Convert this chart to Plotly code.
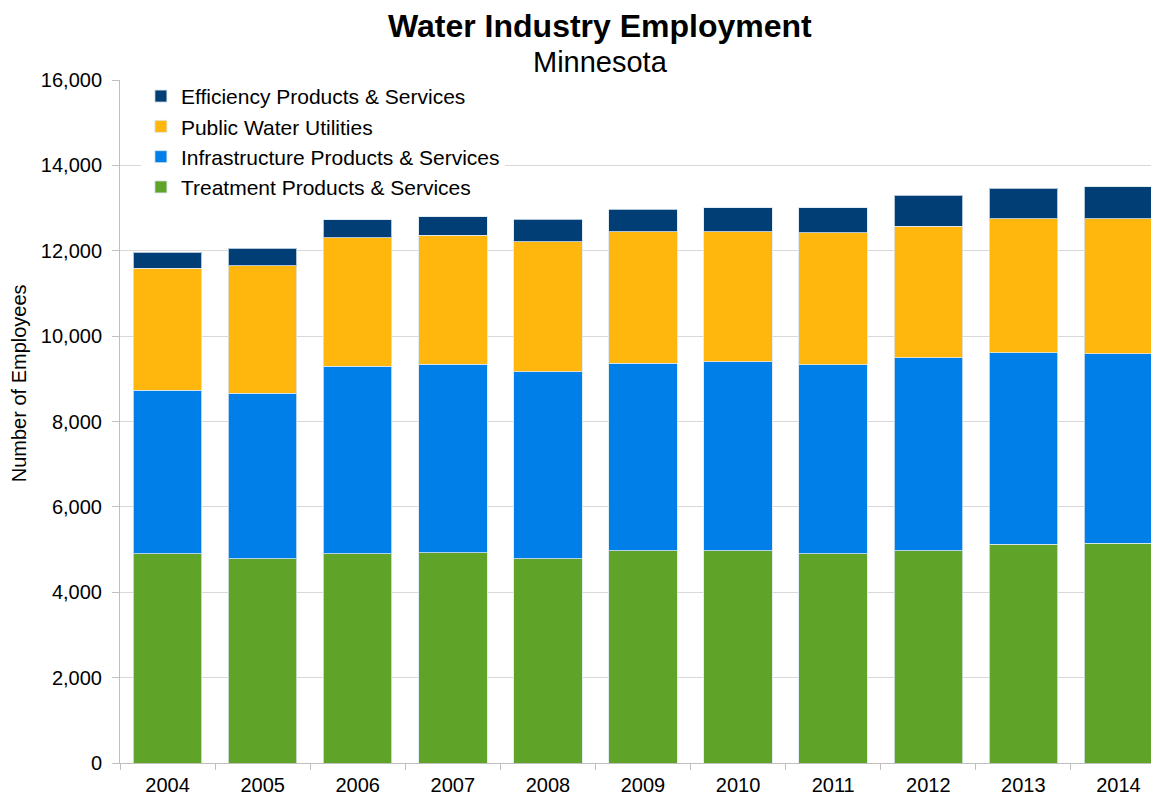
import plotly.graph_objects as go

years = ["2004", "2005", "2006", "2007", "2008", "2009", "2010", "2011", "2012", "2013", "2014"]
treatment = [4900, 4780, 4900, 4930, 4780, 4970, 4970, 4900, 4970, 5120, 5150]
infrastructure = [3830, 3880, 4400, 4410, 4380, 4395, 4435, 4435, 4525, 4490, 4435]
public_utilities = [2855, 2990, 3000, 3020, 3050, 3085, 3045, 3085, 3080, 3140, 3165]
efficiency = [380, 405, 430, 440, 525, 520, 560, 590, 720, 720, 755]
y_ticks = [0, 2000, 4000, 6000, 8000, 10000, 12000, 14000, 16000]

FONT = "Liberation Sans, Arial, sans-serif"

series = [
    ("Treatment Products & Services", treatment, "#5FA328"),
    ("Infrastructure Products & Services", infrastructure, "#007FE8"),
    ("Public Water Utilities", public_utilities, "#FFB70D"),
    ("Efficiency Products & Services", efficiency, "#003E75"),
]

fig = go.Figure()
for name, vals, col in series:
    fig.add_trace(go.Bar(
        x=years, y=vals, name=name,
        marker=dict(color=col, line=dict(color="rgba(220,230,240,0.8)", width=1)),
    ))

fig.update_layout(
    barmode="stack",
    bargap=0.28,
    width=1159, height=798,
    margin=dict(l=112, r=1, t=72, b=43),
    paper_bgcolor="white", plot_bgcolor="white",
    font=dict(family=FONT, color="#000000", size=20),
    showlegend=True,
    legend=dict(
        traceorder="reversed",
        x=0.020, y=1.006, xanchor="left", yanchor="top",
        bgcolor="white",
        font=dict(size=21, family=FONT),
        itemwidth=30,
        tracegroupgap=0,
    ),
    xaxis=dict(
        type="category",
        showline=True, linecolor="#BFBFBF", linewidth=1,
        ticks="outside", tickson="boundaries", ticklen=6, tickcolor="#BFBFBF",
        tickfont=dict(size=20, family=FONT),
        ticklabelstandoff=4,
        showgrid=False,
    ),
    yaxis=dict(
        range=[0, 16000],
        tickvals=y_ticks,
        tickformat=",d",
        showline=True, linecolor="#BFBFBF", linewidth=1,
        ticks="outside", ticklen=7, tickcolor="#BFBFBF",
        showgrid=True, gridcolor="#D9D9D9", gridwidth=1,
        tickfont=dict(size=20, family=FONT),
        ticklabelstandoff=6,
        zeroline=False,
    ),
    annotations=[
        dict(text="<b>Water Industry Employment</b>", xref="paper", yref="paper",
             x=0.4589, y=1.0, yshift=54, xanchor="center", yanchor="middle",
             showarrow=False, font=dict(size=32, family=FONT)),
        dict(text="Minnesota", xref="paper", yref="paper",
             x=0.4589, y=1.0, yshift=18, xanchor="center", yanchor="middle",
             showarrow=False, font=dict(size=29, family=FONT)),
        dict(text="Number of Employees", xref="paper", yref="paper",
             x=0, xshift=-101, y=0.556, xanchor="center", yanchor="middle",
             textangle=-90, showarrow=False, font=dict(size=20, family=FONT)),
    ],
)

fig.write_html("out.html")
